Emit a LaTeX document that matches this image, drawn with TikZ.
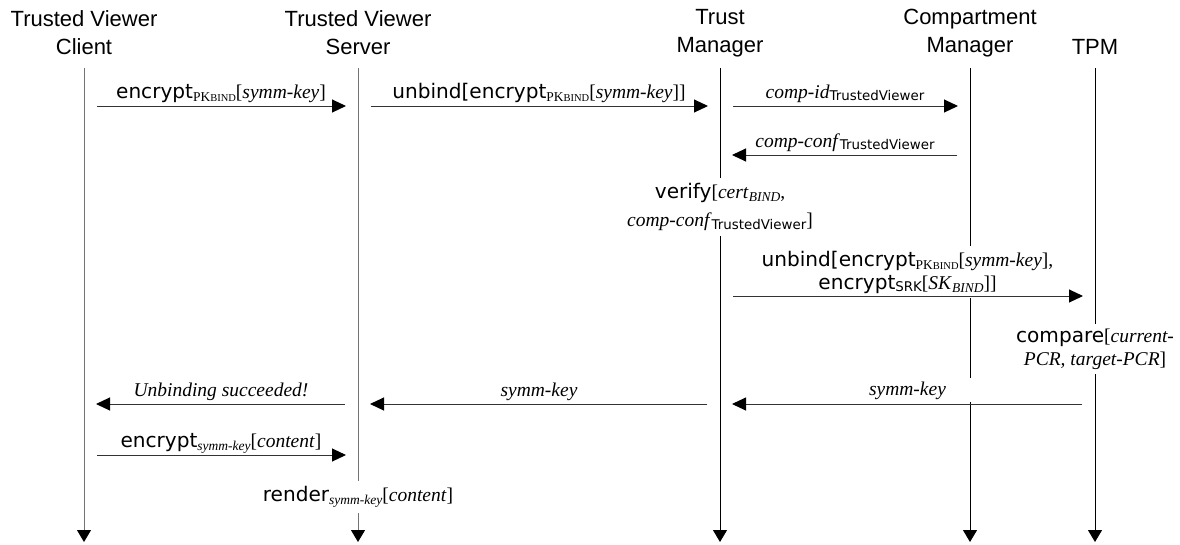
\documentclass[tikz,border=0pt]{standalone}
\usepackage{fontspec}
\setmainfont{Liberation Serif}
\newfontfamily\hdrfont{Liberation Sans}
\newfontfamily\labfont{DejaVu Sans}[Scale=1.03]
\usetikzlibrary{arrows.meta}
\newcommand\lsub[1]{\raisebox{-3pt}{\fontsize{13.5}{13.5}\selectfont #1}}
\newcommand\ssub[1]{\raisebox{-2.5pt}{\labfont\fontsize{13}{13}\selectfont #1}}
\newcommand\pkb{\lsub{PK{\fontsize{10.5}{10.5}\selectfont BIND}}}
\begin{document}
\begin{tikzpicture}[x=1pt,y=-1pt,
  hdr/.style={font=\hdrfont\fontsize{22}{28}\selectfont, align=center, inner sep=0pt},
  lbl/.style={font=\fontsize{19.5}{23}\selectfont, align=center, inner sep=0pt},
  cover/.style={lbl, fill=white, inner xsep=2pt, inner ysep=5pt},
  lifeline/.style={line width=1pt, -{Triangle[length=12pt,width=14pt,color=black]}},
  msg/.style={line width=1pt, draw=black!80, -{Triangle[length=14pt,width=13pt,color=black]}, shorten <=13pt, shorten >=12pt},
  lab/.style={lbl, midway, anchor=base, yshift=8pt}
]
\useasboundingbox (0,0) rectangle (1180,544);

% headers
\node[hdr] (hC) at (84,33) {Trusted Viewer\\Client};
\node[hdr] (hS) at (358,33) {Trusted Viewer\\Server};
\node[hdr] (hM) at (720,33) {Trust\\Manager};
\node[hdr] (hP) at (970,33) {Compartment\\Manager};
\node[hdr] (hT) at (1095,47) {TPM};

% lifeline ends
\coordinate (C0) at (84,68);   \coordinate (C9) at (84,542);
\coordinate (S0) at (358,68);  \coordinate (S9) at (358,542);
\coordinate (M0) at (720,68);  \coordinate (M9) at (720,542);
\coordinate (P0) at (970,68);  \coordinate (P9) at (970,542);
\coordinate (T0) at (1095,68); \coordinate (T9) at (1095,542);

% message rows
\coordinate (r1) at (0,106);
\coordinate (r2) at (0,155);
\coordinate (r3) at (0,296);
\coordinate (r4) at (0,404);
\coordinate (r5) at (0,455);

% lifelines
\draw[lifeline, draw=black!55] (C0) -- (C9);
\draw[lifeline, draw=black!55] (S0) -- (S9);
\draw[lifeline] (M0) -- (M9);
\draw[lifeline] (P0) -- (P9);
\draw[lifeline] (T0) -- (T9);

% actions on lifelines
\node[cover] (verify) at (720,207) {{\labfont verify}[\textit{cert}\lsub{\textit{BIND}},\\[5pt]\textit{comp-conf}\ssub{TrustedViewer}]};
\node[cover] (unbind) at (907.5,272) {{\labfont unbind[encrypt}\pkb[\textit{symm-key}],\\{\labfont encrypt}\ssub{SRK}[\textit{SK}\lsub{\textit{BIND}}]]};
\node[cover] (compare) at (1095,349) {{\labfont compare}[\textit{current-}\\\textit{PCR, target-PCR}]};
\node[cover] (render) at (358,497) {{\labfont render}\lsub{\textit{symm-key}}[\textit{content}]};

% messages
\draw[msg] (C0 |- r1) -- (S0 |- r1) node[lab] (m1) {{\labfont encrypt}\pkb[\textit{symm-key}]};
\draw[msg] (S0 |- r1) -- (M0 |- r1) node[lab] (m2) {{\labfont unbind[encrypt}\pkb[\textit{symm-key}]]};
\draw[msg] (M0 |- r1) -- (P0 |- r1) node[lab] (m3) {\textit{comp-id}\ssub{TrustedViewer}};
\draw[msg] (P0 |- r2) -- (M0 |- r2) node[lab] (m4) {\textit{comp-conf}\ssub{TrustedViewer}};
\draw[msg] (M0 |- r3) -- (T0 |- r3);
\draw[msg] (T0 |- r4) -- (M0 |- r4) node[lab, yshift=1pt, fill=white, minimum width=150pt, inner ysep=3pt] (m6) {\textit{symm-key}};
\draw[msg] (M0 |- r4) -- (S0 |- r4) node[lab] (m7) {\textit{symm-key}};
\draw[msg] (S0 |- r4) -- (C0 |- r4) node[lab] (m8) {\textit{Unbinding succeeded!}};
\draw[msg] (C0 |- r5) -- (S0 |- r5) node[lab] (m9) {{\labfont encrypt}\lsub{\textit{symm-key}}[\textit{content}]};
\end{tikzpicture}
\end{document}
